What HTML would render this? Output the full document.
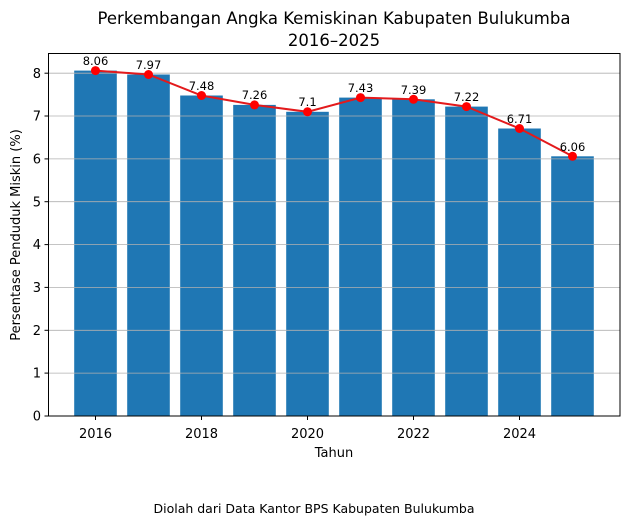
<!DOCTYPE html>
<html><head><meta charset="utf-8"><style>body{margin:0;background:#fff}svg{display:block}text{font-family:"DejaVu Sans","Liberation Sans",sans-serif;fill:#000}</style></head><body>
<svg width="630" height="526" xmlns="http://www.w3.org/2000/svg">
<rect width="630" height="526" fill="#fff"/>
<g fill="#1f77b4">
<rect x="74.2" y="70.6" width="42.6" height="345.4"/>
<rect x="127.2" y="74.5" width="42.6" height="341.5"/>
<rect x="180.2" y="95.5" width="42.6" height="320.5"/>
<rect x="233.2" y="104.9" width="42.6" height="311.1"/>
<rect x="286.2" y="111.8" width="42.6" height="304.2"/>
<rect x="339.2" y="97.6" width="42.6" height="318.4"/>
<rect x="392.2" y="99.3" width="42.6" height="316.7"/>
<rect x="445.2" y="106.6" width="42.6" height="309.4"/>
<rect x="498.2" y="128.5" width="42.6" height="287.5"/>
<rect x="551.2" y="156.3" width="42.6" height="259.7"/>
</g>
<g stroke="#b0b0b0" stroke-width="0.8">
<line x1="48.5" x2="620" y1="373.1" y2="373.1"/><line x1="48.5" x2="620" y1="330.3" y2="330.3"/>
<line x1="48.5" x2="620" y1="287.4" y2="287.4"/><line x1="48.5" x2="620" y1="244.6" y2="244.6"/>
<line x1="48.5" x2="620" y1="201.7" y2="201.7"/><line x1="48.5" x2="620" y1="158.9" y2="158.9"/>
<line x1="48.5" x2="620" y1="116" y2="116"/><line x1="48.5" x2="620" y1="73.2" y2="73.2"/>
</g>
<polyline fill="none" stroke="#e31a1c" stroke-width="2" points="95.5,70.6 148.5,74.5 201.5,95.5 254.5,104.9 307.5,111.8 360.5,97.6 413.5,99.3 466.5,106.6 519.5,128.5 572.5,156.3"/>
<g fill="#ff0000">
<circle cx="95.5" cy="70.6" r="4.5"/><circle cx="148.5" cy="74.5" r="4.5"/><circle cx="201.5" cy="95.5" r="4.5"/><circle cx="254.5" cy="104.9" r="4.5"/><circle cx="307.5" cy="111.8" r="4.5"/><circle cx="360.5" cy="97.6" r="4.5"/><circle cx="413.5" cy="99.3" r="4.5"/><circle cx="466.5" cy="106.6" r="4.5"/><circle cx="519.5" cy="128.5" r="4.5"/><circle cx="572.5" cy="156.3" r="4.5"/>
</g>
<g font-size="11.5" text-anchor="middle">
<text x="95.5" y="65">8.06</text><text x="148.5" y="69">7.97</text><text x="201.5" y="90">7.48</text><text x="254.5" y="99">7.26</text><text x="307.5" y="106">7.1</text><text x="360.5" y="92">7.43</text><text x="413.5" y="94">7.39</text><text x="466.5" y="101">7.22</text><text x="519.5" y="123">6.71</text><text x="572.5" y="151">6.06</text>
</g>
<rect x="48.5" y="53.5" width="571.5" height="362.5" fill="none" stroke="#000" stroke-width="1"/>
<g stroke="#000" stroke-width="1">
<line x1="44.5" x2="48.5" y1="416" y2="416"/><line x1="44.5" x2="48.5" y1="373.1" y2="373.1"/><line x1="44.5" x2="48.5" y1="330.3" y2="330.3"/><line x1="44.5" x2="48.5" y1="287.4" y2="287.4"/><line x1="44.5" x2="48.5" y1="244.6" y2="244.6"/><line x1="44.5" x2="48.5" y1="201.7" y2="201.7"/><line x1="44.5" x2="48.5" y1="158.9" y2="158.9"/><line x1="44.5" x2="48.5" y1="116" y2="116"/><line x1="44.5" x2="48.5" y1="73.2" y2="73.2"/>
<line x1="95.5" x2="95.5" y1="416" y2="420"/><line x1="201.5" x2="201.5" y1="416" y2="420"/><line x1="307.5" x2="307.5" y1="416" y2="420"/><line x1="413.5" x2="413.5" y1="416" y2="420"/><line x1="519.5" x2="519.5" y1="416" y2="420"/>
</g>
<g font-size="13" text-anchor="end">
<text x="41" y="420.5">0</text><text x="41" y="377.5">1</text><text x="41" y="335">2</text><text x="41" y="292">3</text><text x="41" y="249">4</text><text x="41" y="206.5">5</text><text x="41" y="163.5">6</text><text x="41" y="120.5">7</text><text x="41" y="78">8</text>
</g>
<g font-size="13" text-anchor="middle">
<text x="95.5" y="438">2016</text><text x="201.5" y="438">2018</text><text x="307.5" y="438">2020</text><text x="413.5" y="438">2022</text><text x="519.5" y="438">2024</text>
<text x="334" y="457">Tahun</text>
<text transform="translate(20,235) rotate(-90)">Persentase Penduduk Miskin (%)</text>
</g>
<g font-size="16.5" text-anchor="middle">
<text x="334" y="24">Perkembangan Angka Kemiskinan Kabupaten Bulukumba</text>
<text x="334" y="46">2016–2025</text>
</g>
<text x="314" y="513" font-size="12.5" text-anchor="middle">Diolah dari Data Kantor BPS Kabupaten Bulukumba</text>
</svg>
</body></html>
